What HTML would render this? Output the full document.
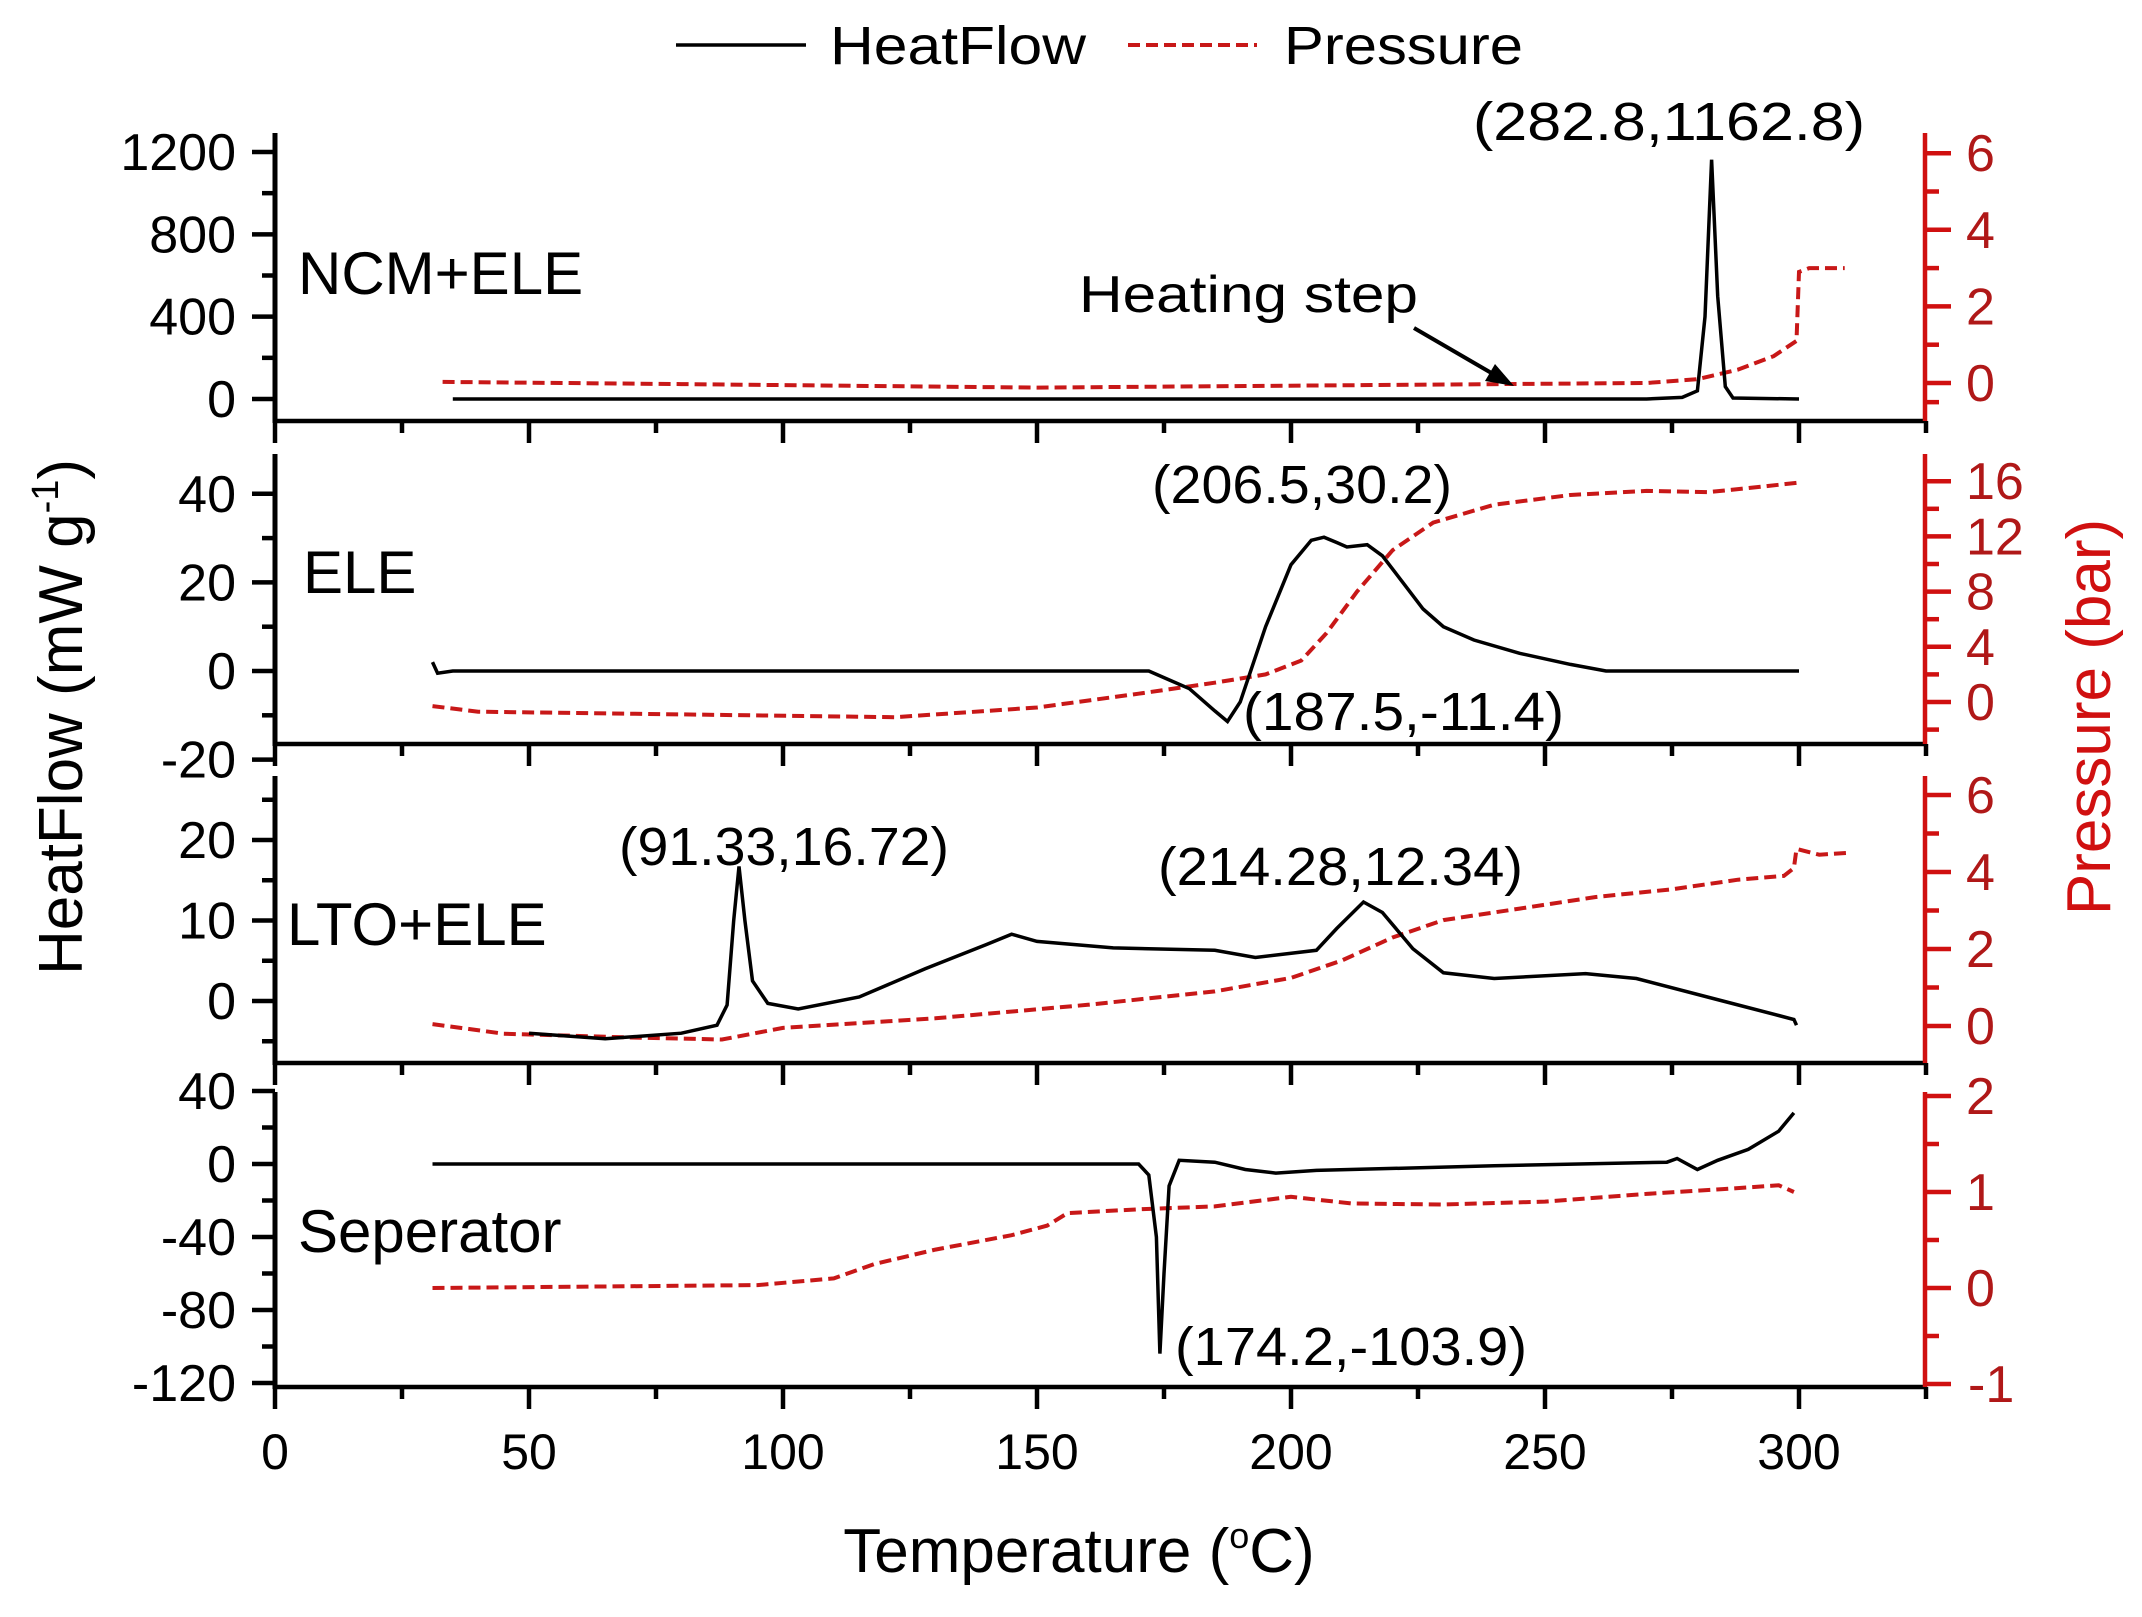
<!DOCTYPE html>
<html><head><meta charset="utf-8"><style>
html,body{margin:0;padding:0;background:#fff}
svg text{font-family:"Liberation Sans",sans-serif}
</style></head><body>
<svg id="s" width="2142" height="1612" xmlns="http://www.w3.org/2000/svg"></svg>
<script>
const S=document.getElementById('s');let h='';
const X=t=>275+t*5.08;
const P=[
 {top:133,bot:421,ly:v=>399-v*(247/1200),ry:v=>383-v*38.3,
  lt:[[1200,1],[1000,0],[800,1],[600,0],[400,1],[200,0],[0,1]],rt:[[6,1],[5,0],[4,1],[3,0],[2,1],[1,0],[0,1],[-0.5,0]],
  hf:[[35,0],[270,0],[277,8],[280,40],[281.5,400],[282.8,1162.8],[284,500],[285.5,60],[287,5],[300,0]],
  pr:[[33,0.03],[80,-0.03],[150,-0.12],[220,-0.05],[270,0.0],[280,0.1],[288,0.35],[295,0.7],[299.5,1.1],[300,2.9],[302,3.0],[309,3.0]]},
 {top:454,bot:744,ly:v=>671-v*4.43,ry:v=>702-v*13.8,
  lt:[[40,1],[30,0],[20,1],[10,0],[0,1],[-10,0],[-20,1]],rt:[[16,1],[14,0],[12,1],[10,0],[8,1],[6,0],[4,1],[2,0],[0,1],[-2,0]],
  hf:[[31,2],[32,-0.5],[35,0],[172,0],[176,-2],[180,-4],[185,-9],[187.5,-11.4],[190,-7],[195,10],[200,24],[204,29.5],[206.5,30.2],[209,29],[211,28],[215,28.5],[218,26],[222,20],[226,14],[230,10],[236,7],[245,4],[255,1.5],[262,0],[300,0]],
  pr:[[31,-0.3],[40,-0.7],[80,-0.9],[122,-1.1],[150,-0.4],[170,0.6],[185,1.4],[195,2.0],[202,3.0],[207,5],[213,8],[220,11],[228,13],[240,14.3],[255,15],[270,15.3],[282,15.2],[290,15.5],[300,15.9]]},
 {top:776,bot:1063,ly:v=>1001-v*8.05,ry:v=>1026-v*38.5,
  lt:[[25,0],[20,1],[15,0],[10,1],[5,0],[0,1],[-5,0]],rt:[[6,1],[5,0],[4,1],[3,0],[2,1],[1,0],[0,1]],
  hf:[[50,-4],[65,-4.7],[80,-4],[87,-3],[89,-0.5],[90.3,10],[91.33,16.72],[92.5,10],[94,2.5],[97,-0.3],[103,-1],[115,0.5],[128,4],[140,7],[145,8.3],[150,7.4],[165,6.6],[185,6.3],[193,5.4],[205,6.3],[209,9],[214.28,12.3],[218,11],[224,6.5],[230,3.5],[240,2.8],[258,3.4],[268,2.8],[285,0],[296,-1.8],[299,-2.3],[299.5,-3]],
  pr:[[31,0.05],[45,-0.2],[70,-0.3],[88,-0.35],[100,-0.05],[130,0.2],[160,0.55],[185,0.9],[200,1.25],[210,1.7],[220,2.3],[230,2.75],[245,3.05],[260,3.35],[275,3.55],[288,3.8],[297,3.9],[299,4.1],[299.5,4.6],[304,4.45],[310,4.5]]},
 {top:1092,bot:1387,ly:v=>1164-v*1.825,ry:v=>1288-v*96,
  lt:[[40,1],[20,0],[0,1],[-20,0],[-40,1],[-60,0],[-80,1],[-100,0],[-120,1]],rt:[[2,1],[1.5,0],[1,1],[0.5,0],[0,1],[-0.5,0],[-1,1]],
  hf:[[31,0],[170,0],[172,-6],[173.5,-40],[174.2,-103.9],[175,-60],[176,-12],[178,2],[185,1],[191,-3],[197,-5],[205,-3.5],[240,-1],[274,1],[276,3],[280,-3],[284,2],[290,8],[296,18],[299,28]],
  pr:[[31,0],[95,0.03],[110,0.1],[118,0.25],[130,0.4],[145,0.55],[152,0.65],[156,0.78],[170,0.82],[185,0.85],[200,0.95],[212,0.88],[230,0.87],[250,0.9],[270,0.98],[285,1.03],[296,1.07],[299,1.0]]}
];
const path=(pts,fy)=>pts.map((p,i)=>(i?'L':'M')+X(p[0]).toFixed(1)+' '+fy(p[1]).toFixed(1)).join('');
P.forEach(p=>{
 h+=`<line x1="275" y1="${p.top}" x2="275" y2="${p.bot+2}" stroke="#000" stroke-width="5"/>`;
 h+=`<line x1="273" y1="${p.bot}" x2="1925" y2="${p.bot}" stroke="#000" stroke-width="4.5"/>`;
 for(let t=0;t<=325;t+=25){const mj=t%50==0;h+=`<line x1="${X(t)}" y1="${p.bot}" x2="${X(t)}" y2="${p.bot+(mj?22:12)}" stroke="#000" stroke-width="4.5"/>`;}
 p.lt.forEach(([v,m])=>{const y=p.ly(v);h+=`<line x1="${m?252:262}" y1="${y}" x2="275" y2="${y}" stroke="#000" stroke-width="4.5"/>`;if(m)h+=`<text x="236" y="${y+18}" font-size="52" text-anchor="end">${v}</text>`;});
 h+=`<line x1="1925" y1="${p.top}" x2="1925" y2="${p.bot}" stroke="#d01010" stroke-width="4.5"/>`;
 p.rt.forEach(([v,m])=>{const y=p.ry(v);h+=`<line x1="1925" y1="${y}" x2="${m?1951:1939}" y2="${y}" stroke="#d01010" stroke-width="4.5"/>`;if(m)h+=`<text x="${v<0?1968:1966}" y="${y+18}" font-size="52" fill="#b01818">${v}</text>`;});
 h+=`<path d="${path(p.pr,p.ry)}" fill="none" stroke="#c81818" stroke-width="4" stroke-dasharray="12,6"/>`;
 h+=`<path d="${path(p.hf,p.ly)}" fill="none" stroke="#000" stroke-width="3.5"/>`;
});
const T=(x,y,s,fs,extra='')=>h+=`<text x="${x}" y="${y}" font-size="${fs}" ${extra}>${s}</text>`;
T(298,294,'NCM+ELE',60);T(303,593,'ELE',60);T(287,945,'LTO+ELE',60);T(298,1252,'Seperator',60);
T(1473,140,'(282.8,1162.8)',54,'textLength="392" lengthAdjust="spacingAndGlyphs"');
T(1152,503,'(206.5,30.2)',54,'textLength="300" lengthAdjust="spacingAndGlyphs"');
T(1243,730,'(187.5,-11.4)',54,'textLength="321" lengthAdjust="spacingAndGlyphs"');
T(619,865,'(91.33,16.72)',54,'textLength="330" lengthAdjust="spacingAndGlyphs"');
T(1158,885,'(214.28,12.34)',54,'textLength="365" lengthAdjust="spacingAndGlyphs"');
T(1175,1365,'(174.2,-103.9)',54,'textLength="352" lengthAdjust="spacingAndGlyphs"');
T(1079,312,'Heating step',52,'textLength="339" lengthAdjust="spacingAndGlyphs"');
h+=`<line x1="1414" y1="328" x2="1500" y2="378" stroke="#000" stroke-width="4"/><polygon points="1514,386 1485,381 1495,364" fill="#000"/>`;
for(let t=0;t<=300;t+=50)T(X(t),1469,t,50,'text-anchor="middle"');
T(1079,1572,'Temperature (<tspan font-size="36" dy="-24">o</tspan><tspan dy="24">C)</tspan>',62,'text-anchor="middle"');
h+=`<text transform="translate(82,717) rotate(-90)" font-size="62" text-anchor="middle">HeatFlow (mW g<tspan font-size="38" dy="-24">-1</tspan><tspan dy="24">)</tspan></text>`;
h+=`<text transform="translate(2110,717) rotate(-90)" font-size="62" text-anchor="middle" fill="#d01010">Pressure (bar)</text>`;
h+=`<line x1="676" y1="45" x2="806" y2="45" stroke="#000" stroke-width="3.5"/>`;T(830,64,'HeatFlow',54,'textLength="256" lengthAdjust="spacingAndGlyphs"');
h+=`<line x1="1128" y1="45" x2="1257" y2="45" stroke="#c81818" stroke-width="4" stroke-dasharray="12,6"/>`;T(1284,64,'Pressure',54,'textLength="239" lengthAdjust="spacingAndGlyphs"');
S.innerHTML=h;
</script>
</body></html>
